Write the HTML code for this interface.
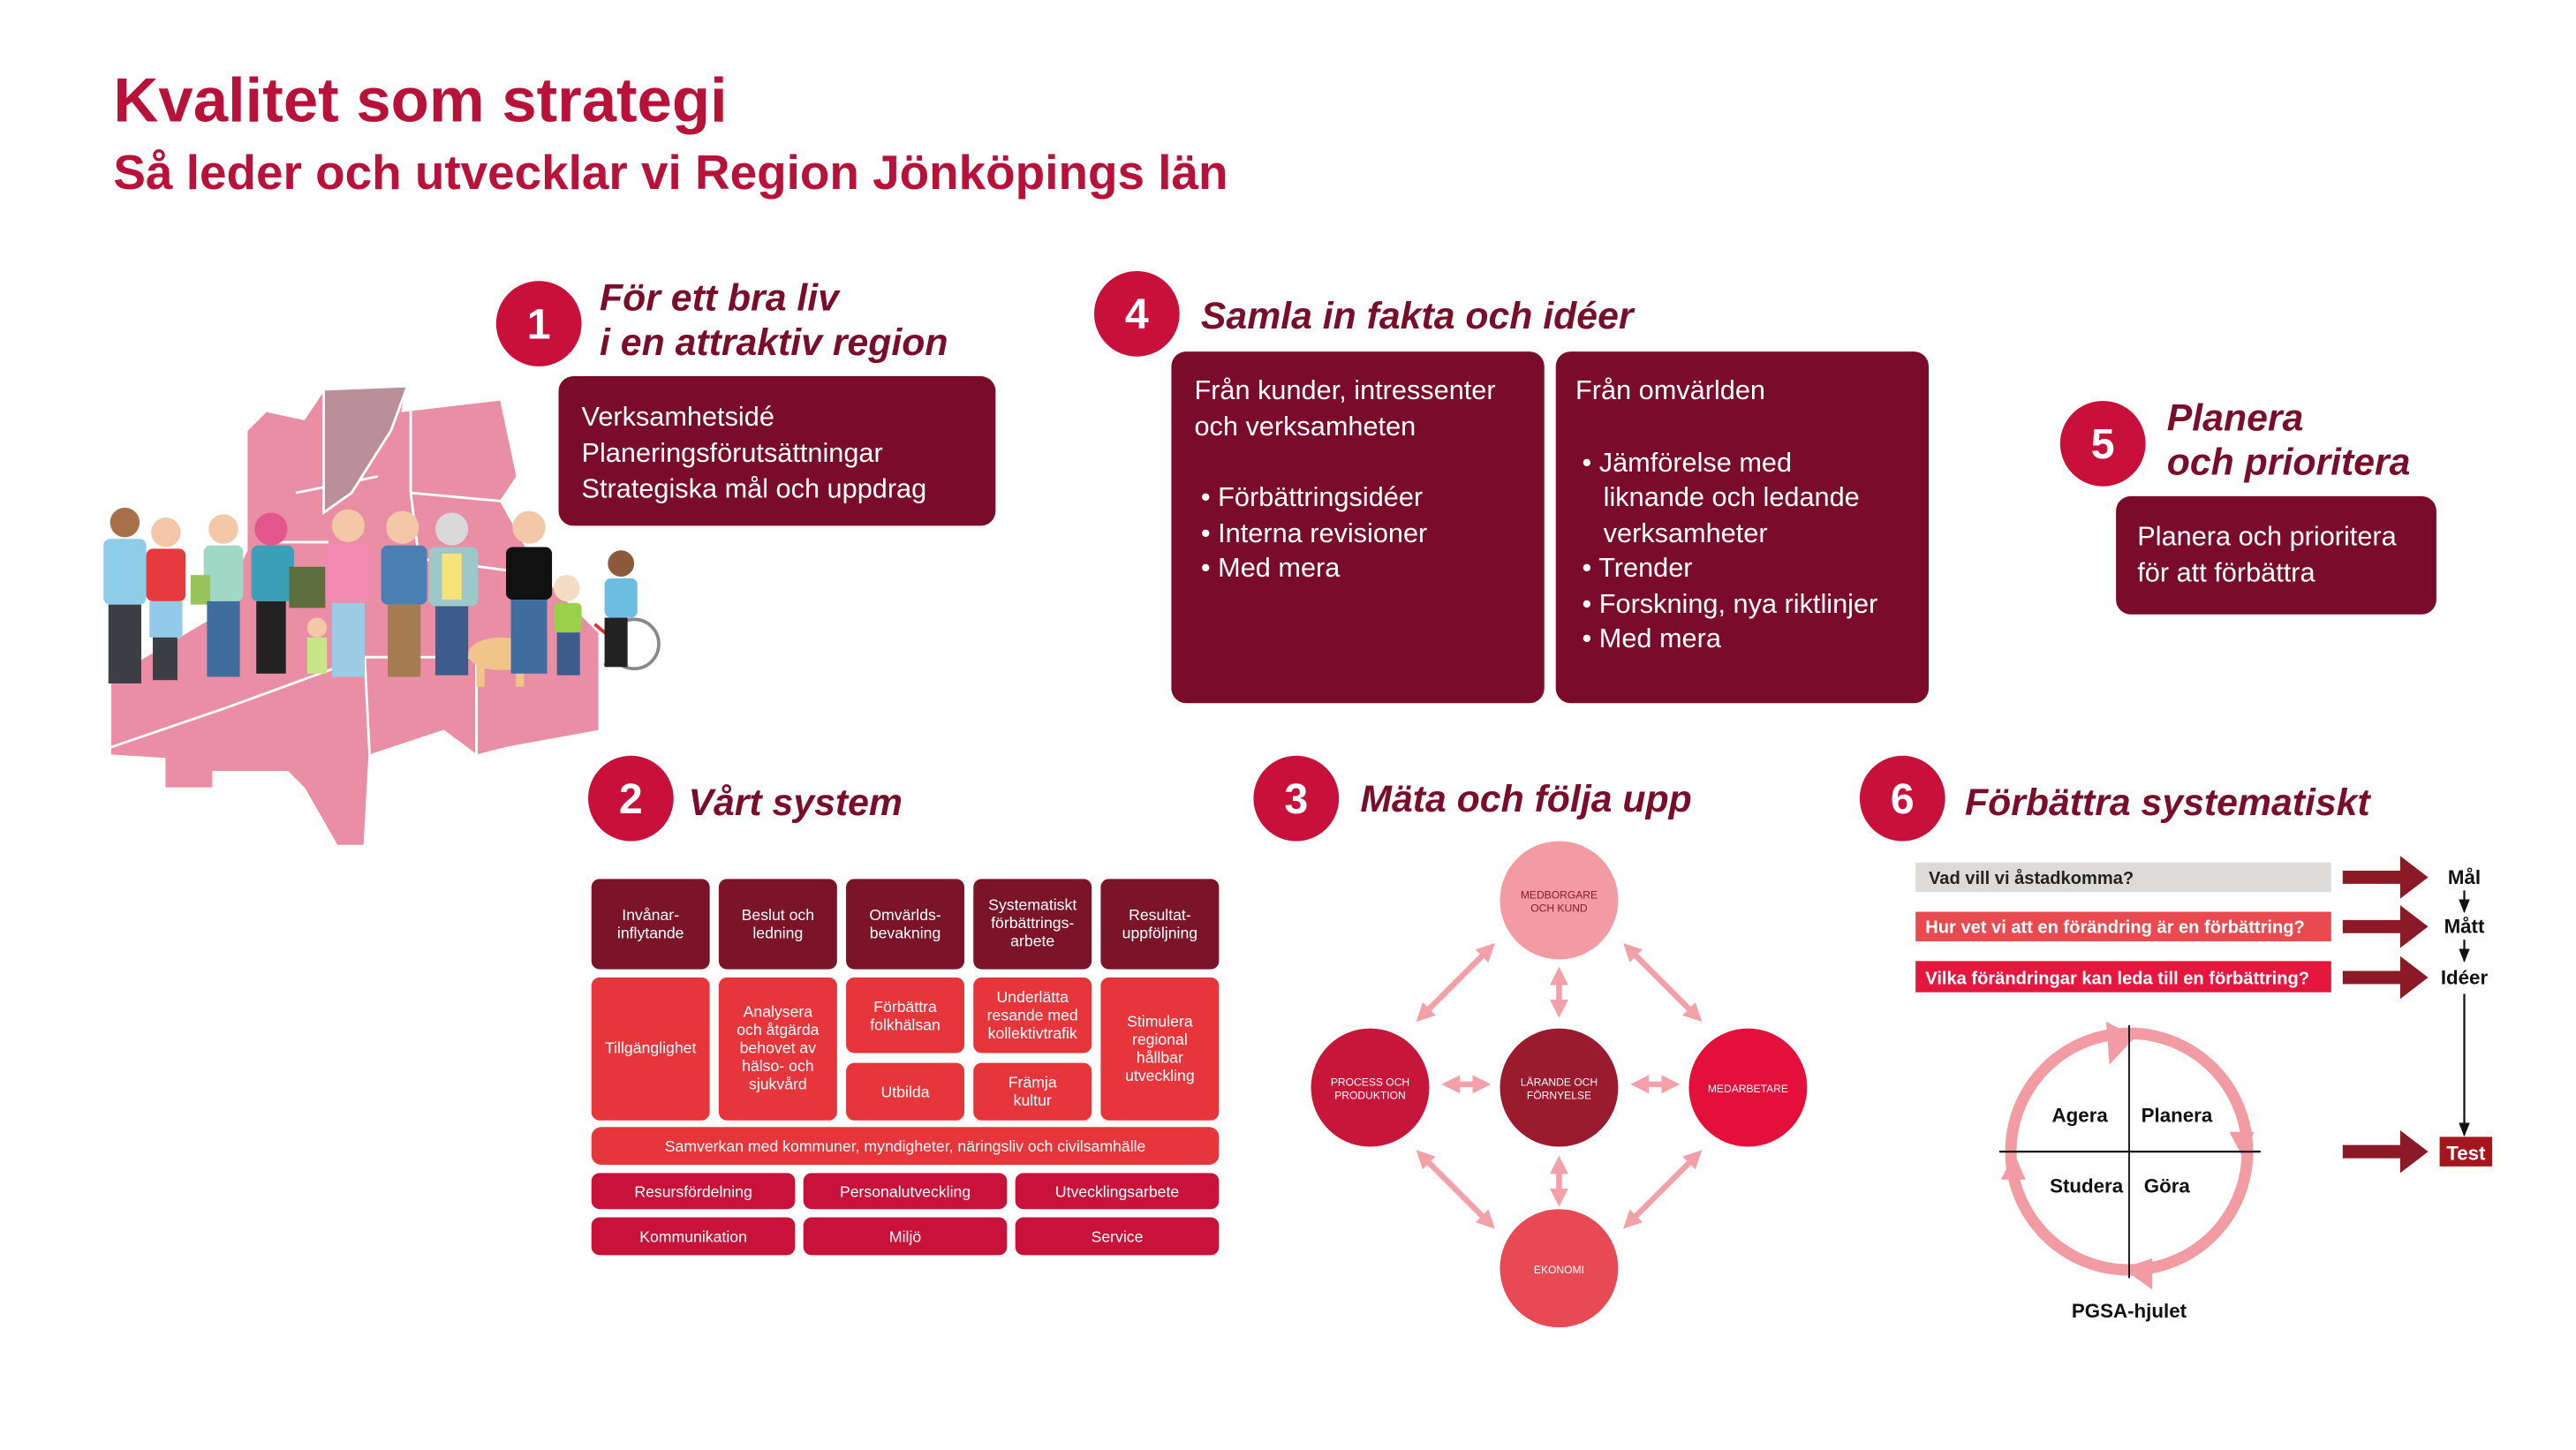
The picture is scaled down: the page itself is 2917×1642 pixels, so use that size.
<!DOCTYPE html>
<html><head><meta charset="utf-8"><style>
html,body{margin:0;padding:0;background:#fff;}
svg{display:block;}
.t{font-family:"Liberation Sans",sans-serif;}
.n{font-family:"Liberation Sans Narrow","Liberation Sans",sans-serif;}
.h{font-family:"Liberation Sans",sans-serif;font-weight:bold;font-style:italic;fill:#7a0e2a;font-size:23px;}
.num{font-family:"Liberation Sans",sans-serif;font-weight:bold;fill:#fff;font-size:26px;text-anchor:middle;}
.w{fill:#fff;}
.g text{fill:#fff;font-family:"Liberation Sans Narrow","Liberation Sans",sans-serif;font-size:9.5px;text-anchor:middle;}
</style></head><body>
<svg width="2917" height="1642" viewBox="0 0 1568 882.6" xmlns="http://www.w3.org/2000/svg">
<defs>
<marker id="pa" viewBox="0 0 10 10" refX="5" refY="5" markerWidth="3.2" markerHeight="3.2" orient="auto-start-reverse"><path d="M0,0L10,5L0,10z" fill="#f4a0a8"/></marker>
<marker id="ka" viewBox="0 0 10 10" refX="9" refY="5" markerWidth="7" markerHeight="7" orient="auto"><path d="M0,1L10,5L0,9z" fill="#111"/></marker>
</defs>
<text x="69" y="74" class="t" font-weight="bold" font-size="38" fill="#b8123a">Kvalitet som strategi</text>
<text x="69" y="115" class="t" font-weight="bold" font-size="29.5" fill="#b8123a">Så leder och utvecklar vi Region Jönköpings län</text>

<!-- map -->
<g fill="#e98ea4" stroke="#fff" stroke-width="1.5">
<path d="M67,460L67,412L130,375L150,335L150,262L162,250L185,255L197,237L248,235L245,250L305,243L315,290L305,305L330,350L365,385L365,445L310,455L290,460L270,445L225,460L222,515L205,515L185,480L175,470L155,470L130,470L130,480L100,480L100,462Z"/>
<path d="M225,460L222,400L140,430L67,455" fill="none"/>
<path d="M250,250L250,300L305,305M250,300L255,340L330,350M222,400L290,400L290,460M180,300L230,290M160,330L200,330" fill="none"/>
<path d="M197,237L248,235L238,262L214,300L197,312Z" fill="#bb8f9a"/>
</g>
<!-- people -->
<g>
<g><circle cx="76" cy="318" r="9" fill="#a8704a"/><rect x="63" y="328" width="26" height="40" rx="4" fill="#8ecde8"/><rect x="66" y="368" width="20" height="48" fill="#3b3f44"/></g>
<g><circle cx="101" cy="324" r="9" fill="#f2c8a8"/><rect x="89" y="334" width="24" height="32" rx="4" fill="#e53b3f"/><rect x="91" y="366" width="20" height="22" fill="#92c9e6"/><rect x="93" y="388" width="15" height="26" fill="#3b3f44"/></g>
<g><circle cx="136" cy="322" r="9" fill="#f2c8a8"/><rect x="124" y="332" width="24" height="34" rx="4" fill="#9fd8c4"/><rect x="116" y="350" width="12" height="18" fill="#98c45a"/><rect x="126" y="366" width="20" height="46" fill="#3f6d9e"/></g>
<g><circle cx="165" cy="322" r="10" fill="#e2578b"/><rect x="153" y="332" width="26" height="34" rx="4" fill="#3aa0b8"/><rect x="156" y="366" width="18" height="44" fill="#222"/><rect x="176" y="345" width="22" height="25" fill="#5c6e3e"/></g>
<g><circle cx="193" cy="382" r="6" fill="#f2c8a8"/><rect x="187" y="388" width="12" height="22" fill="#c9e58a"/></g>
<g><circle cx="212" cy="320" r="10" fill="#f2c8a8"/><rect x="198" y="331" width="28" height="36" rx="4" fill="#f28ab0"/><rect x="202" y="367" width="20" height="45" fill="#9ccbe6"/></g>
<g><circle cx="245" cy="321" r="10" fill="#f2c8a8"/><rect x="232" y="332" width="28" height="36" rx="4" fill="#4a7fb3"/><rect x="236" y="368" width="20" height="44" fill="#a67c52"/></g>
<g><circle cx="275" cy="322" r="10" fill="#d9d9d9"/><rect x="261" y="333" width="30" height="36" rx="4" fill="#9ec7c7"/><rect x="269" y="337" width="12" height="28" fill="#f8e27a"/><rect x="265" y="369" width="20" height="42" fill="#3d5c8c"/></g>
<g><ellipse cx="305" cy="398" rx="20" ry="10" fill="#f0c48a"/><rect x="290" y="400" width="5" height="18" fill="#f0c48a"/><rect x="314" y="400" width="5" height="18" fill="#f0c48a"/><circle cx="321" cy="386" r="7" fill="#e9b070"/></g>
<g><circle cx="322" cy="321" r="10" fill="#f2c8a8"/><rect x="308" y="333" width="28" height="32" rx="4" fill="#111"/><rect x="311" y="365" width="22" height="45" fill="#3f6d9e"/></g>
<g><circle cx="345" cy="358" r="8" fill="#f4dcc4"/><rect x="337" y="367" width="17" height="18" rx="3" fill="#9ad04a"/><rect x="339" y="385" width="14" height="26" fill="#3d5c8c"/></g>
<g><circle cx="378" cy="343" r="8" fill="#8c5a3a"/><rect x="368" y="352" width="20" height="24" rx="4" fill="#6cbde0"/><circle cx="386" cy="392" r="15" fill="none" stroke="#888" stroke-width="2"/><path d="M362,380L380,395L368,405" stroke="#e03030" stroke-width="2" fill="none"/><rect x="368" y="376" width="14" height="30" fill="#222"/></g>
</g>

<!-- section 1 -->
<circle cx="328" cy="197" r="26" fill="#c8103a"/><text x="328" y="206" class="num">1</text>
<text x="365" y="189" class="h">För ett bra liv</text><text x="365" y="216" class="h">i en attraktiv region</text>
<rect x="340" y="229" width="266" height="91" rx="9" fill="#7b0b2a"/>
<g class="t w" font-size="16.5"><text x="354" y="259">Verksamhetsidé</text><text x="354" y="281">Planeringsförutsättningar</text><text x="354" y="303">Strategiska mål och uppdrag</text></g>

<!-- section 4 -->
<circle cx="692" cy="191" r="26" fill="#c8103a"/><text x="692" y="200" class="num">4</text>
<text x="731" y="200" class="h">Samla in fakta och idéer</text>
<rect x="713" y="214" width="227" height="214" rx="9" fill="#7b0b2a"/>
<rect x="947" y="214" width="227" height="214" rx="9" fill="#7b0b2a"/>
<g class="t w" font-size="16.5">
<text x="727" y="243">Från kunder, intressenter</text><text x="727" y="265">och verksamheten</text>
<text x="731" y="308">• Förbättringsidéer</text><text x="731" y="330">• Interna revisioner</text><text x="731" y="351">• Med mera</text>
<text x="959" y="243">Från omvärlden</text>
<text x="963" y="287">• Jämförelse med</text><text x="976" y="308">liknande och ledande</text><text x="976" y="330">verksamheter</text>
<text x="963" y="351">• Trender</text><text x="963" y="373">• Forskning, nya riktlinjer</text><text x="963" y="394">• Med mera</text>
</g>

<!-- section 5 -->
<circle cx="1280" cy="270" r="26" fill="#c8103a"/><text x="1280" y="279" class="num">5</text>
<text x="1319" y="262" class="h">Planera</text><text x="1319" y="289" class="h">och prioritera</text>
<rect x="1288" y="302" width="195" height="72" rx="9" fill="#7b0b2a"/>
<g class="t w" font-size="16.5"><text x="1301" y="332">Planera och prioritera</text><text x="1301" y="354">för att förbättra</text></g>

<!-- section 2 -->
<circle cx="384" cy="486" r="26" fill="#c8103a"/><text x="384" y="495" class="num">2</text>
<text x="419" y="496" class="h">Vårt system</text>
<g class="g">
<g fill="#7b1428">
<rect x="360" y="535" width="72" height="55" rx="5"/><rect x="437.5" y="535" width="72" height="55" rx="5"/><rect x="515" y="535" width="72" height="55" rx="5"/><rect x="592.5" y="535" width="72" height="55" rx="5"/><rect x="670" y="535" width="72" height="55" rx="5"/>
</g>
<text x="396" y="560">Invånar-</text><text x="396" y="571">inflytande</text>
<text x="473.5" y="560">Beslut och</text><text x="473.5" y="571">ledning</text>
<text x="551" y="560">Omvärlds-</text><text x="551" y="571">bevakning</text>
<text x="628.5" y="554">Systematiskt</text><text x="628.5" y="565">förbättrings-</text><text x="628.5" y="576">arbete</text>
<text x="706" y="560">Resultat-</text><text x="706" y="571">uppföljning</text>
<g fill="#e6353b">
<rect x="360" y="595" width="72" height="87" rx="5"/><rect x="437.5" y="595" width="72" height="87" rx="5"/>
<rect x="515" y="595" width="72" height="46" rx="5"/><rect x="592.5" y="595" width="72" height="46" rx="5"/>
<rect x="515" y="647" width="72" height="35" rx="5"/><rect x="592.5" y="647" width="72" height="35" rx="5"/>
<rect x="670" y="595" width="72" height="87" rx="5"/>
<rect x="360" y="686" width="382" height="23" rx="6"/>
</g>
<text x="396" y="641">Tillgänglighet</text>
<text x="473.5" y="619">Analysera</text><text x="473.5" y="630">och åtgärda</text><text x="473.5" y="641">behovet av</text><text x="473.5" y="652">hälso- och</text><text x="473.5" y="663">sjukvård</text>
<text x="551" y="616">Förbättra</text><text x="551" y="627">folkhälsan</text>
<text x="628.5" y="610">Underlätta</text><text x="628.5" y="621">resande med</text><text x="628.5" y="632">kollektivtrafik</text>
<text x="551" y="668">Utbilda</text>
<text x="628.5" y="662">Främja</text><text x="628.5" y="673">kultur</text>
<text x="706" y="625">Stimulera</text><text x="706" y="636">regional</text><text x="706" y="647">hållbar</text><text x="706" y="658">utveckling</text>
<text x="551" y="701">Samverkan med kommuner, myndigheter, näringsliv och civilsamhälle</text>
<g fill="#c8123a">
<rect x="360" y="714" width="124" height="22" rx="5"/><rect x="489" y="714" width="124" height="22" rx="5"/><rect x="618" y="714" width="124" height="22" rx="5"/>
<rect x="360" y="741" width="124" height="23" rx="5"/><rect x="489" y="741" width="124" height="23" rx="5"/><rect x="618" y="741" width="124" height="23" rx="5"/>
</g>
<text x="422" y="728.5">Resursfördelning</text><text x="551" y="728.5">Personalutveckling</text><text x="680" y="728.5">Utvecklingsarbete</text>
<text x="422" y="756">Kommunikation</text><text x="551" y="756">Miljö</text><text x="680" y="756">Service</text>
</g>

<!-- section 3 -->
<circle cx="789" cy="486" r="26" fill="#c8103a"/><text x="789" y="495" class="num">3</text>
<text x="828" y="494" class="h">Mäta och följa upp</text>
<g stroke="#f4a0a8" stroke-width="3.5" marker-start="url(#pa)" marker-end="url(#pa)">
<line x1="906" y1="578" x2="866" y2="618"/><line x1="992" y1="578" x2="1032" y2="618"/>
<line x1="866" y1="704" x2="906" y2="744"/><line x1="1032" y1="704" x2="992" y2="744"/>
<line x1="949" y1="594" x2="949" y2="614"/><line x1="949" y1="709" x2="949" y2="729"/>
<line x1="883" y1="660" x2="902" y2="660"/><line x1="998" y1="660" x2="1017" y2="660"/>
</g>
<circle cx="949" cy="548" r="36" fill="#f29ba2"/><circle cx="834" cy="662" r="36" fill="#c8163a"/>
<circle cx="949" cy="662" r="36" fill="#9a1a2e"/><circle cx="1064" cy="662" r="36" fill="#e50f3c"/>
<circle cx="949" cy="772" r="36" fill="#e84a55"/>
<g class="n" font-size="6.5" text-anchor="middle">
<text x="949" y="547" fill="#8a1a2a">MEDBORGARE</text><text x="949" y="555" fill="#8a1a2a">OCH KUND</text>
<text x="834" y="661" fill="#fff">PROCESS OCH</text><text x="834" y="669" fill="#fff">PRODUKTION</text>
<text x="949" y="661" fill="#fff">LÄRANDE OCH</text><text x="949" y="669" fill="#fff">FÖRNYELSE</text>
<text x="1064" y="665" fill="#fff">MEDARBETARE</text>
<text x="949" y="775" fill="#fff">EKONOMI</text>
</g>

<!-- section 6 -->
<circle cx="1158" cy="486" r="26" fill="#c8103a"/><text x="1158" y="495" class="num">6</text>
<text x="1196" y="496" class="h">Förbättra systematiskt</text>
<rect x="1166" y="525" width="253" height="18" fill="#dcdbda"/>
<rect x="1166" y="555" width="253" height="18" fill="#e84a4f"/>
<rect x="1166" y="585" width="253" height="19" fill="#e5173f"/>
<g class="t" font-size="10.8" font-weight="bold">
<text x="1174" y="538" fill="#222">Vad vill vi åstadkomma?</text>
<text x="1172" y="568" fill="#fff">Hur vet vi att en förändring är en förbättring?</text>
<text x="1172" y="599" fill="#fff">Vilka förändringar kan leda till en förbättring?</text>
</g>
<g fill="#8b1a26">
<path d="M1426,530h35v-9l17,13l-17,13v-9h-35z"/>
<path d="M1426,560h35v-9l17,13l-17,13v-9h-35z"/>
<path d="M1426,591h35v-9l17,13l-17,13v-9h-35z"/>
<path d="M1426,697h35v-9l17,13l-17,13v-9h-35z"/>
</g>
<g class="t" font-size="12" font-weight="bold" fill="#111" text-anchor="middle">
<text x="1500" y="538">Mål</text><text x="1500" y="568">Mått</text><text x="1500" y="599">Idéer</text>
</g>
<g stroke="#111" stroke-width="1.2" marker-end="url(#ka)">
<line x1="1500" y1="542" x2="1500" y2="555"/><line x1="1500" y1="572" x2="1500" y2="585"/><line x1="1500" y1="605" x2="1500" y2="691"/>
</g>
<rect x="1485" y="692" width="32" height="18" fill="#a5151e"/>
<text x="1501" y="706" class="t" font-size="12" font-weight="bold" fill="#fff" text-anchor="middle">Test</text>
<circle cx="1296" cy="701" r="72" fill="none" stroke="#f29ba2" stroke-width="7"/>
<g fill="#f29ba2">
<path d="M1282,622L1300,631L1284,648z"/>
<path d="M1357,689L1372,689L1366,706z"/>
<path d="M1310,766L1310,785L1292,772z"/>
<path d="M1218,718L1233,718L1226,702z"/>
</g>
<line x1="1217" y1="701" x2="1376" y2="701" stroke="#111" stroke-width="1.2"/>
<line x1="1296" y1="624" x2="1296" y2="778" stroke="#111" stroke-width="1"/>
<g class="t" font-size="12" font-weight="bold" fill="#111" text-anchor="middle">
<text x="1266" y="683">Agera</text><text x="1325" y="683">Planera</text>
<text x="1270" y="726">Studera</text><text x="1319" y="726">Göra</text>
<text x="1296" y="802">PGSA-hjulet</text>
</g>
</svg>
</body></html>
